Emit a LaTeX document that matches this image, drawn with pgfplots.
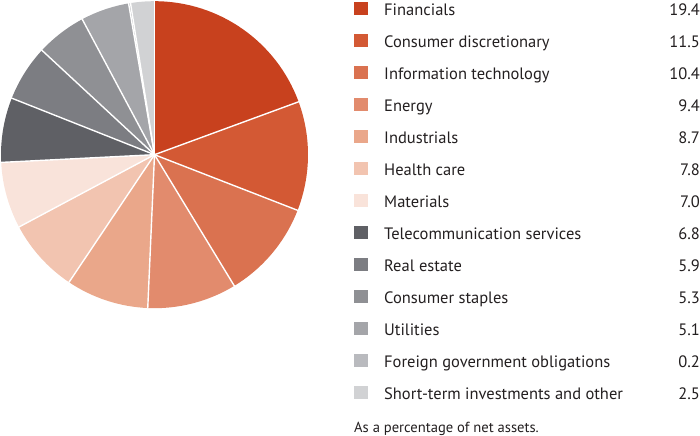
\documentclass[border=0pt]{standalone}
\usepackage{fontspec}
\setmainfont{PT Sans}
\usepackage{pgfplots}
\usepackage{pgfplotstable}
\pgfplotsset{compat=1.18}

\definecolor{c1}{RGB}{200,65,30}
\definecolor{c2}{RGB}{211,89,52}
\definecolor{c3}{RGB}{218,114,80}
\definecolor{c4}{RGB}{226,139,109}
\definecolor{c5}{RGB}{234,167,138}
\definecolor{c6}{RGB}{242,196,176}
\definecolor{c7}{RGB}{249,227,218}
\definecolor{c8}{RGB}{95,96,101}
\definecolor{c9}{RGB}{124,125,130}
\definecolor{c10}{RGB}{143,144,148}
\definecolor{c11}{RGB}{164,165,169}
\definecolor{c12}{RGB}{185,186,190}
\definecolor{c13}{RGB}{209,210,212}
\definecolor{txt}{RGB}{35,31,32}

% sector weights, % of net assets
\pgfplotstableread[col sep=comma]{
name,value,idx,cls
Financials,19.4,0,c1
Consumer discretionary,11.5,1,c2
Information technology,10.4,2,c3
Energy,9.4,3,c4
Industrials,8.7,4,c5
Health care,7.8,5,c6
Materials,7.0,6,c7
Telecommunication services,6.8,7,c8
Real estate,5.9,8,c9
Consumer staples,5.3,9,c10
Utilities,5.1,10,c11
Foreign government obligations,0.2,11,c12
Short-term investments and other,2.5,12,c13
}\sectors

\newcommand\legfont{\fontsize{16.5bp}{19bp}\selectfont}

\begin{document}
\begin{tikzpicture}
\begin{axis}[
    scale only axis,
    width=700bp, height=442bp,
    xmin=0, xmax=700, ymin=0, ymax=442,
    hide axis, clip=false,
]
% pie slices, clockwise from 12 o'clock
\pgfplotsextra{
  \def\cum{0}
  \pgfplotsforeachungrouped \i in {0,...,12}{
    \pgfplotstablegetelem{\i}{value}\of{\sectors}
    \pgfmathsetmacro\sa{90-3.6*\cum}
    \pgfmathsetmacro\cum{\cum+\pgfplotsretval}
    \pgfmathsetmacro\ea{90-3.6*\cum}
    \pgfmathtruncatemacro\k{\i+1}
    \fill[c\k] (axis cs:153.5,286) -- ++(\sa:153.5bp)
      arc[start angle=\sa, end angle=\ea, radius=153.5bp] -- cycle;
  }
  \def\cum{0}
  \pgfplotsforeachungrouped \i in {0,...,12}{
    \pgfplotstablegetelem{\i}{value}\of{\sectors}
    \pgfmathsetmacro\sa{90-3.6*\cum}
    \pgfmathsetmacro\cum{\cum+\pgfplotsretval}
    \draw[white, line width=1.4bp] (axis cs:153.5,286) -- ++(\sa:154bp);
  }
}
% legend squares
\addplot[scatter, only marks, mark=square*, mark size=6.2bp,
    point meta=explicit symbolic,
    scatter/classes={
      c1={c1}, c2={c2}, c3={c3}, c4={c4}, c5={c5}, c6={c6}, c7={c7},
      c8={c8}, c9={c9}, c10={c10}, c11={c11}, c12={c12}, c13={c13}},
  ] table[x expr=359.5, y expr={432.4-31.97*\thisrow{idx}}, meta=cls] {\sectors};
% legend names
\addplot[draw=none, mark=none,
    point meta=explicit symbolic,
    nodes near coords,
    every node near coord/.style={anchor=base west, yshift=-7.3bp,
        text=txt, inner sep=0pt, font=\legfont},
  ] table[x expr=383, y expr={432.4-31.97*\thisrow{idx}}, meta=name] {\sectors};
% values
\addplot[draw=none, mark=none,
    point meta=explicit symbolic,
    nodes near coords,
    every node near coord/.style={anchor=base east, yshift=-7.3bp,
        text=txt, inner sep=0pt, font=\legfont},
  ] table[x expr=699, y expr={432.4-31.97*\thisrow{idx}}, meta=value] {\sectors};
\node[anchor=base west, inner sep=0pt, text=txt, font=\fontsize{14.6bp}{17bp}\selectfont]
  at (axis cs:353,8) {As a percentage of net assets.};
\end{axis}
\end{tikzpicture}
\end{document}
